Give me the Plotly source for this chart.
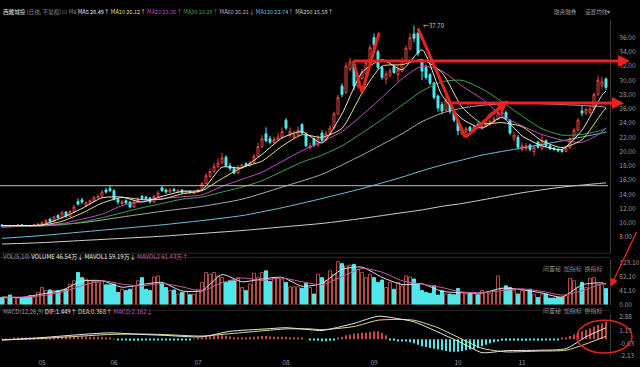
import plotly.graph_objects as go

# ---------------- data ----------------
OPEN = [9.7,9.5,9.6,9.5,9.6,9.7,9.6,9.6,9.5,9.7,
        9.8,10.0,10.5,10.2,11.0,10.7,11.5,10.9,11.6,13.0,
        13.2,12.4,12.7,13.0,13.5,13.7,14.6,14.8,14.5,13.3,
        12.7,13.1,12.9,12.2,12.9,13.7,13.6,13.5,12.9,13.7,
        14.9,14.6,14.3,14.7,14.3,14.6,14.2,14.4,14.1,14.3,
        14.6,15.5,16.5,17.2,17.9,18.4,19.2,18.0,17.6,17.0,
        17.8,18.3,18.0,18.4,19.3,20.7,22.5,21.8,21.3,21.6,
        22.0,24.4,22.3,22.0,22.3,23.8,22.4,20.5,21.8,20.9,
        22.6,21.6,22.5,23.3,25.3,29.2,28.3,31.6,32.3,29.2,
        30.3,31.0,32.2,36.0,34.0,31.8,30.2,30.7,31.9,30.8,
        31.3,32.8,34.4,36.5,36.6,32.8,31.8,30.8,29.6,27.8,
        26.6,25.8,27.0,25.6,24.4,22.5,22.8,23.4,22.9,23.8,
        23.3,23.5,23.8,24.2,24.5,25.3,25.5,24.4,21.8,22.0,
        20.3,20.4,20.9,20.0,21.3,20.4,21.5,20.8,20.5,20.3,
        20.2,20.0,20.5,21.8,23.0,25.7,25.4,25.5,26.0,28.0,
        29.3,30.2]
HIGH = [9.8,9.7,9.7,9.7,9.8,9.8,9.7,9.6,9.8,9.9,
        10.2,10.5,10.7,11.0,11.2,11.7,11.6,11.8,12.5,13.4,
        13.5,13.0,13.3,13.8,14.0,14.6,14.9,15.3,14.7,13.5,
        13.2,13.3,13.0,13.1,13.6,13.9,13.8,13.6,13.9,14.5,
        15.2,14.8,14.9,14.9,14.7,14.7,14.5,14.5,14.4,14.8,
        15.7,16.9,17.6,18.4,19.0,19.8,19.5,18.4,17.9,18.1,
        18.3,18.5,18.7,19.7,21.2,22.3,23.4,22.2,22.1,22.6,
        23.4,24.7,23.4,22.9,23.5,24.0,22.7,21.2,22.0,22.3,
        23.0,22.9,23.7,25.6,28.0,29.6,32.5,33.2,32.6,30.8,
        31.6,32.9,35.0,36.6,34.3,32.0,31.3,31.7,32.2,32.2,
        33.2,34.9,36.6,37.7,36.9,33.0,32.2,31.0,29.8,28.0,
        27.0,27.8,27.2,25.8,24.6,23.4,23.5,23.6,23.8,24.1,
        23.9,24.3,24.5,25.0,26.0,26.3,25.7,24.5,22.8,22.3,
        21.2,21.2,21.1,20.9,21.5,22.4,21.7,21.0,20.6,20.5,
        20.4,20.7,22.0,23.3,24.7,26.4,26.2,26.4,28.3,30.7,
        30.5,30.4]
LOW = [9.4,9.4,9.4,9.4,9.5,9.5,9.4,9.4,9.4,9.6,
       9.7,9.9,10.1,10.1,10.5,10.6,10.7,10.8,11.4,12.4,
       12.6,12.2,12.5,12.9,13.3,13.6,14.1,14.3,13.1,12.6,
       12.5,12.6,12.0,12.1,12.8,13.2,13.2,12.7,12.8,13.6,
       14.3,14.1,14.2,14.3,14.2,14.1,14.0,14.1,14.0,14.2,
       14.5,15.4,16.3,17.0,17.7,18.2,17.8,17.3,16.8,16.9,
       17.6,17.8,17.9,18.3,19.2,20.5,21.3,21.0,21.1,21.4,
       21.8,23.0,22.0,21.8,22.1,22.4,20.6,20.3,20.6,20.7,
       21.4,21.4,22.3,23.1,25.1,27.6,28.1,31.3,28.6,28.8,
       30.0,30.8,32.0,34.2,31.5,30.1,29.4,30.4,30.9,29.8,
       31.1,32.6,34.2,35.4,33.4,30.0,30.1,29.3,27.3,25.6,
       25.2,25.6,25.3,24.1,22.3,22.3,22.6,22.7,22.8,23.2,
       23.1,23.4,23.6,24.0,24.4,25.1,24.4,22.3,21.4,20.3,
       20.0,20.1,20.0,19.4,20.4,20.2,20.6,20.2,20.1,19.9,
       19.8,19.9,20.4,21.6,22.8,25.0,25.1,25.2,25.9,27.8,
       28.8,28.6]
CLOSE = [9.5,9.6,9.5,9.6,9.7,9.6,9.5,9.5,9.7,9.8,
         10.0,10.3,10.2,10.8,10.7,11.4,10.9,11.6,12.2,12.6,
         12.9,12.8,13.1,13.5,13.7,14.3,14.3,14.5,13.3,12.9,
         12.9,12.8,12.2,12.9,13.3,13.4,13.4,12.9,13.7,14.2,
         14.5,14.3,14.6,14.5,14.5,14.2,14.4,14.2,14.3,14.6,
         15.5,16.6,17.2,17.9,18.4,19.1,18.0,17.6,17.0,17.8,
         18.1,18.0,18.4,19.3,20.7,21.8,21.5,21.3,21.7,22.0,
         22.8,23.3,22.8,22.3,23.0,22.6,20.8,20.8,20.9,21.9,
         21.6,22.5,23.3,25.3,27.6,28.0,32.0,32.6,29.2,30.3,
         31.2,32.5,34.6,35.0,31.8,30.4,30.9,31.3,31.1,31.5,
         32.8,34.5,36.0,35.9,33.8,31.3,30.4,29.6,27.6,26.1,
         25.7,27.2,25.6,24.4,22.9,23.0,23.2,22.9,23.5,23.4,
         23.6,23.9,24.2,24.6,25.5,25.6,24.6,22.6,22.3,20.6,
         20.8,20.8,20.3,20.6,20.6,21.6,20.8,20.4,20.3,20.1,
         20.0,20.5,21.8,23.0,24.4,25.4,25.9,26.0,28.0,30.0,
         29.8,29.0]
VOLUME = [21,19,28,21,19,19,21,26,21,36,
          50,41,43,41,41,43,45,60,70,94,
          79,75,70,68,65,70,58,58,60,36,
          45,41,45,55,70,79,45,41,81,84,
          62,50,41,43,31,36,39,29,31,45,
          65,94,89,94,84,79,65,70,70,79,
          50,41,60,92,79,94,99,68,79,77,
          75,65,52,52,52,48,62,50,31,89,
          79,70,99,89,126,120,113,116,118,103,
          94,79,89,79,65,72,50,65,45,65,
          55,84,81,75,62,41,36,33,55,28,
          41,31,31,29,47,36,31,33,33,29,
          41,36,33,41,84,48,55,50,41,31,
          41,41,45,31,21,31,31,19,19,21,
          21,26,77,70,50,65,50,77,79,60,
          60,47]

MA_S_IDX = [0,5,10,15,20,25,30,35,40,45,50,55,60,65,70,75,80,85,90,95,
            100,105,110,115,120,125,130,135,140,145,150,151]
MA5 = [9.6,9.6,9.7,10.7,12.0,13.5,13.6,12.9,13.7,14.4,14.6,17.8,17.7,19.6,21.9,22.8,
       21.2,25.3,31.1,32.9,31.5,34.3,27.9,24.6,23.3,24.8,22.2,20.8,20.3,23.0,27.9,28.49]
MA10 = [9.6,9.6,9.65,10.2,11.35,12.75,13.55,13.25,13.3,14.05,14.5,16.2,17.75,18.65,20.75,22.35,
        22.0,23.25,28.2,32.0,32.2,32.9,31.1,26.25,23.95,24.05,23.5,21.5,20.55,21.65,25.45,26.12]
MA20 = [9.5,9.55,9.6,9.9,10.5,11.2,12.4,13.0,13.4,13.65,13.9,15.1,16.1,17.1,18.6,20.1,
        21.4,22.8,25.1,27.6,30.2,32.0,31.3,29.2,27.4,25.0,23.6,22.4,21.6,21.3,22.7,23.36]
MA30 = [9.4,9.5,9.55,9.7,10.1,10.7,11.4,12.1,12.7,13.3,13.6,14.3,15.0,15.9,17.2,18.5,
        19.5,20.8,22.6,24.5,26.5,28.5,29.8,30.0,28.8,27.0,25.0,23.2,22.3,22.4,23.0,23.28]
MA_L_IDX = [0,10,20,30,40,50,60,70,80,90,100,105,110,115,120,130,140,150,151]
MA60 = [9.4,9.6,10.0,10.8,11.6,12.3,13.3,15.0,16.8,19.5,22.5,24.2,25.4,26.1,26.5,26.8,26.6,26.3,26.21]
MA120 = [7.8,8.2,8.7,9.2,9.7,10.3,11.0,12.1,13.4,14.8,16.4,17.3,18.1,18.8,19.5,20.5,21.5,22.6,22.74]
MA250 = [7.0,7.2,7.5,7.8,8.1,8.5,8.9,9.4,9.9,10.6,11.4,11.8,12.3,12.7,13.2,14.2,15.0,15.55,15.59]

VOL_MA_IDX = [0,5,10,15,20,25,30,35,40,45,50,55,60,65,70,75,80,85,90,95,
              100,105,110,115,120,125,130,135,140,145,150,151]
MAVOL1 = [22,21,31,42,69,70,51,59,65,40,41,88,67,75,80,54,62,103,110,80,
          59,61,39,35,34,48,44,34,22,58,64,59.19]
MAVOL2 = [22,22,26,37,55,70,60,55,62,52,40,64,78,71,78,67,58,82,106,95,
          70,60,50,37,35,41,46,39,28,40,61,61.43]

MACD_IDX = [0,10,20,27,35,40,50,57,66,71,77,80,88,94,99,103,109,115,120,126,134,141,146,151]
DIF = [-0.1,0.2,0.6,0.8,0.6,0.5,0.3,1.0,1.3,1.45,1.2,1.1,2.0,2.9,2.6,2.2,0.9,-0.5,-1.7,-1.45,-1.4,-1.2,0.3,1.449]
DEA = [-0.1,0.1,0.4,0.6,0.65,0.6,0.4,0.7,1.1,1.3,1.3,1.2,1.6,2.4,2.5,2.4,1.45,0.0,-1.15,-1.6,-1.5,-1.4,-0.6,0.368]
MACD_HIST = [0.05,0.05,0.05,0.1,0.1,0.1,0.1,0.15,0.15,0.15,
             0.2,0.2,0.25,0.25,0.3,0.3,0.3,0.3,0.35,0.35,
             0.35,0.35,0.3,0.3,0.3,0.25,0.2,0.15,0.05,-0.05,
             -0.1,-0.15,-0.2,-0.2,-0.2,-0.15,-0.15,-0.1,-0.1,-0.1,
             -0.1,-0.1,-0.1,-0.1,-0.1,-0.1,-0.05,-0.05,0.05,0.1,
             0.2,0.3,0.4,0.45,0.5,0.5,0.45,0.35,0.25,0.2,
             0.2,0.2,0.25,0.3,0.35,0.4,0.4,0.35,0.3,0.3,
             0.3,0.3,0.25,0.2,0.15,0.1,0.0,-0.1,-0.15,-0.2,
             -0.25,-0.25,-0.2,-0.1,0.1,0.3,0.5,0.6,0.7,0.75,
             0.8,0.85,0.9,1.0,1.0,0.8,0.5,-0.1,-0.2,-0.3,
             -0.3,-0.3,-0.4,-0.5,-0.7,-0.9,-1.0,-1.1,-1.2,-1.3,
             -1.4,-1.5,-1.6,-1.6,-1.6,-1.5,-1.4,-1.3,-1.2,-1.1,
             -0.9,-0.7,-0.5,-0.4,-0.3,-0.2,-0.2,-0.15,-0.15,-0.2,
             -0.2,-0.2,-0.15,-0.15,-0.2,-0.15,-0.15,-0.1,-0.1,-0.1,
             0.1,0.2,0.4,0.6,0.8,1.0,1.2,1.4,1.6,1.8,
             2.0,2.162]

MONTH_IDX = [10,28,49,71,93,114,130]
MONTH_LABELS = ["05","06","07","08","09","10","11"]
PRICE_TICKS = [8,10,12,14,16,18,20,22,24,26,28,30,32,34,36]
VOL_TICKS = [0, 41.1, 82.1, 123.1]
MACD_TICKS = [-2.13, -0.63, 1.13, 2.88]
PEAK_IDX, PEAK_VAL = 103, 37.70
SUPPORT_LINE = 15.2          # long horizontal line drawn on chart
RESIST_1 = 32.7              # red horizontal drawn lines
RESIST_2 = 26.8

# ---------------- geometry ----------------
W, H = 640, 367
ML, MR, MT, MB = 0, 30, 0, 10
PW, PH = W - ML - MR, H - MT - MB
X_RANGE = [-0.5, 152.0]
P_RANGE = [5.72, 38.5]
P_DOM = [(PH - 252) / PH, (PH - 16) / PH]
V_RANGE = [0, 133.4]
V_DOM = [(PH - 304) / PH, (PH - 258) / PH]
M_RANGE = [-2.25, 3.125]
M_DOM = [0.0, (PH - 314) / PH]

def px(i):
    return (i - X_RANGE[0]) / (X_RANGE[1] - X_RANGE[0])

def py(v, rng=P_RANGE, dom=P_DOM):
    return dom[0] + (v - rng[0]) / (rng[1] - rng[0]) * (dom[1] - dom[0])

N = len(CLOSE)
IDX = list(range(N))
UP = "#e8453c"
DN = "#4ee8ea"
FONT = "Noto Sans CJK SC"

fig = go.Figure()

fig.add_trace(go.Candlestick(
    x=IDX, open=OPEN, high=HIGH, low=LOW, close=CLOSE,
    increasing=dict(line=dict(color=UP, width=1), fillcolor="rgba(0,0,0,1)"),
    decreasing=dict(line=dict(color=DN, width=1), fillcolor=DN),
    whiskerwidth=0, xaxis="x", yaxis="y", showlegend=False, hoverinfo="skip"))

for idx, vals, col in [(MA_L_IDX, MA250, "#cfcfcf"), (MA_L_IDX, MA120, "#6cc0d8"),
                       (MA_L_IDX, MA60, "#a8a8a8"), (MA_S_IDX, MA30, "#3ea24a"),
                       (MA_S_IDX, MA20, "#c24cc2"), (MA_S_IDX, MA10, "#e8dc8c"),
                       (MA_S_IDX, MA5, "#e8e8e8")]:
    fig.add_trace(go.Scatter(x=idx, y=vals, mode="lines", line=dict(color=col, width=1, shape="spline", smoothing=0.6),
                             xaxis="x", yaxis="y", showlegend=False, hoverinfo="skip"))

is_up = [c >= o for o, c in zip(OPEN, CLOSE)]
fig.add_trace(go.Bar(x=IDX, y=VOLUME,
                     marker=dict(color=["rgba(0,0,0,0)" if u else DN for u in is_up],
                                 line=dict(color=["#b54a44" if u else DN for u in is_up], width=1)),
                     width=0.75, xaxis="x", yaxis="y2", showlegend=False, hoverinfo="skip"))
fig.add_trace(go.Scatter(x=VOL_MA_IDX, y=MAVOL1, mode="lines", line=dict(color="#dcdcdc", width=1, shape="spline", smoothing=0.6),
                         xaxis="x", yaxis="y2", showlegend=False, hoverinfo="skip"))
fig.add_trace(go.Scatter(x=VOL_MA_IDX, y=MAVOL2, mode="lines", line=dict(color="#c85aa8", width=1, shape="spline", smoothing=0.6),
                         xaxis="x", yaxis="y2", showlegend=False, hoverinfo="skip"))

fig.add_trace(go.Bar(x=IDX, y=MACD_HIST, marker=dict(color=["#c04a44" if v >= 0 else DN for v in MACD_HIST], line=dict(width=0)),
                     width=0.25, xaxis="x", yaxis="y3", showlegend=False, hoverinfo="skip"))
fig.add_trace(go.Scatter(x=MACD_IDX, y=DEA, mode="lines", line=dict(color="#e0d890", width=1, shape="spline", smoothing=0.6),
                         xaxis="x", yaxis="y3", showlegend=False, hoverinfo="skip"))
fig.add_trace(go.Scatter(x=MACD_IDX, y=DIF, mode="lines", line=dict(color="#e8e8e8", width=1, shape="spline", smoothing=0.6),
                         xaxis="x", yaxis="y3", showlegend=False, hoverinfo="skip"))

axis_font = dict(family=FONT, size=6.5, color="#9a9a9a")
def yax(dom, rng, ticks, fmt):
    return dict(domain=dom, range=rng, side="right", tickvals=ticks,
                ticktext=[fmt(v) for v in ticks], tickfont=axis_font, showgrid=False,
                zeroline=False, ticks="", ticklabelstandoff=7, showline=True, linecolor="#3a3a3a",
                fixedrange=True)
fig.update_layout(
    width=W, height=H, margin=dict(l=ML, r=MR, t=MT, b=MB),
    paper_bgcolor="#000000", plot_bgcolor="#000000",
    font=dict(family=FONT, size=7, color="#c8c8c8"),
    xaxis=dict(range=X_RANGE, anchor="y3", tickvals=MONTH_IDX, ticktext=MONTH_LABELS,
               showgrid=False, zeroline=False, showline=False, ticks="", tickfont=axis_font,
               ticklabelstandoff=0, rangeslider=dict(visible=False), fixedrange=True),
    yaxis=yax(P_DOM, P_RANGE, PRICE_TICKS, lambda v: f"{v:.2f}"),
    yaxis2=yax(V_DOM, V_RANGE, VOL_TICKS, lambda v: f"{v:.2f}"),
    yaxis3=yax(M_DOM, M_RANGE, MACD_TICKS, lambda v: f"{v:.2f}"),
    bargap=0.2,
)

shapes = []
for yy in [P_DOM[0], V_DOM[1] + 0.005, M_DOM[1] + 0.012]:
    shapes.append(dict(type="line", xref="paper", yref="paper", x0=0, x1=1, y0=yy, y1=yy,
                       line=dict(color="#2a2a2a", width=1)))
shapes.append(dict(type="line", xref="x", yref="y", x0=X_RANGE[0], x1=N - 0.5, y0=SUPPORT_LINE, y1=SUPPORT_LINE,
                   line=dict(color="#bdbdbd", width=1)))
RED = "#e8231c"
def red_line(i0, v0, i1, v1, w=3):
    shapes.append(dict(type="line", xref="paper", yref="paper", x0=px(i0), y0=py(v0), x1=px(i1), y1=py(v1),
                       line=dict(color=RED, width=w)))
red_line(87.8, RESIST_1, 90, LOW[88] - 0.3)
red_line(90, LOW[88] - 0.3, 94.3, HIGH[93] + 0.1)
red_line(104, PEAK_VAL - 0.4, 115.8, LOW[114] - 0.3)
red_line(115.8, LOW[114] - 0.3, 125.8, RESIST_2)
red_line(87.8, RESIST_1, 156.0, RESIST_1)
red_line(112.5, RESIST_2, 154.3, RESIST_2)
shapes.append(dict(type="circle", xref="paper", yref="paper",
                   x0=px(143.7), x1=px(157.5),
                   y0=py(-1.75, M_RANGE, M_DOM), y1=py(2.4, M_RANGE, M_DOM),
                   line=dict(color=RED, width=1.5)))
fig.update_layout(shapes=shapes)

ann = []
def arrow_head(i_tip, v_tip, i_tail, v_tail, rng=P_RANGE, dom=P_DOM, w=2):
    x_t, y_t = px(i_tip), py(v_tip, rng, dom)
    x_s, y_s = px(i_tail), py(v_tail, rng, dom)
    ann.append(dict(xref="paper", yref="paper", x=x_t, y=y_t, ax=(x_s - x_t) * PW, ay=-(y_s - y_t) * PH,
                    text="", showarrow=True, arrowhead=2, arrowsize=1.2, arrowwidth=w, arrowcolor=RED))
arrow_head(157.0, RESIST_1, 151, RESIST_1)
arrow_head(155.5, RESIST_2, 149, RESIST_2)
arrow_head(126.6, RESIST_2 + 0.35, 121, RESIST_2 - 2.0)
x_tip, y_tip = px(152.1), py(52, V_RANGE, V_DOM)
x_tl, y_tl = px(158.8), py(8.8)
ann.append(dict(xref="paper", yref="paper", x=x_tip, y=y_tip, ax=(x_tl - x_tip) * PW, ay=-(y_tl - y_tip) * PH,
                text="", showarrow=True, arrowhead=2, arrowsize=1.3, arrowwidth=1.3, arrowcolor=RED))

def txt(x, y, s, size=5.6, color="#c8c8c8", xanchor="left"):
    ann.append(dict(xref="paper", yref="paper", x=x, y=y, text=s, showarrow=False, xanchor=xanchor,
                    yanchor="middle", font=dict(family=FONT, size=size, color=color)))

def span(s, c):
    return f"<span style='color:{c}'>{s}</span>"

header = (span("西藏城投", "#e0e0e0") + " " + span("(日线, 不复权)", "#8a8a8a") + " " + span("⊡ Ma", "#8a8a8a") + " "
          + span("MA5 28.49↑", "#e8e8e8") + " " + span("MA10 26.12↑", "#e8dc8c") + " "
          + span("MA20 23.36↑", "#c24cc2") + " " + span("MA30 23.28↑", "#3ea24a") + " "
          + span("MA60 26.21↓", "#bdbdbd") + " " + span("MA120 22.74↑", "#6cc0d8") + " "
          + span("MA250 15.59↑", "#d0d0d0"))
txt(0.002, (PH - 8) / PH, header)
txt(0.905, (PH - 8) / PH, "融资融券", color="#9a9a9a")
txt(0.955, (PH - 8) / PH, "设置均线▾", color="#9a9a9a")
vol_hdr = (span("VOL(5,10)", "#9a9a9a") + " " + span("VOLUME 46.54万↓", "#e8e8e8") + " "
           + span("MAVOL1 59.19万↓", "#e8e8e8") + " " + span("MAVOL2 61.43万↑", "#c85aa8"))
txt(0.002, (PH - 255) / PH, vol_hdr, size=6)
macd_hdr = (span("MACD(12,26,9)", "#9a9a9a") + " " + span("DIF:1.449↑", "#e8e8e8") + " "
            + span("DEA:0.368↑", "#e0d890") + " " + span("MACD:2.162↓", "#c24cc2"))
txt(0.002, (PH - 311) / PH, macd_hdr, size=6)
for yy in [(PH - 268) / PH, (PH - 310) / PH]:
    txt(0.99, yy, "问董秘  加指标  换指标", size=6, color="#8a8a8a", xanchor="right")
txt(px(PEAK_IDX) + 0.012, py(PEAK_VAL), "←37.70", size=6, color="#d8d8d8")
fig.update_layout(annotations=ann)

fig.write_html("out.html", config={"displayModeBar": False},
               post_script="document.body.style.margin='0px';")
